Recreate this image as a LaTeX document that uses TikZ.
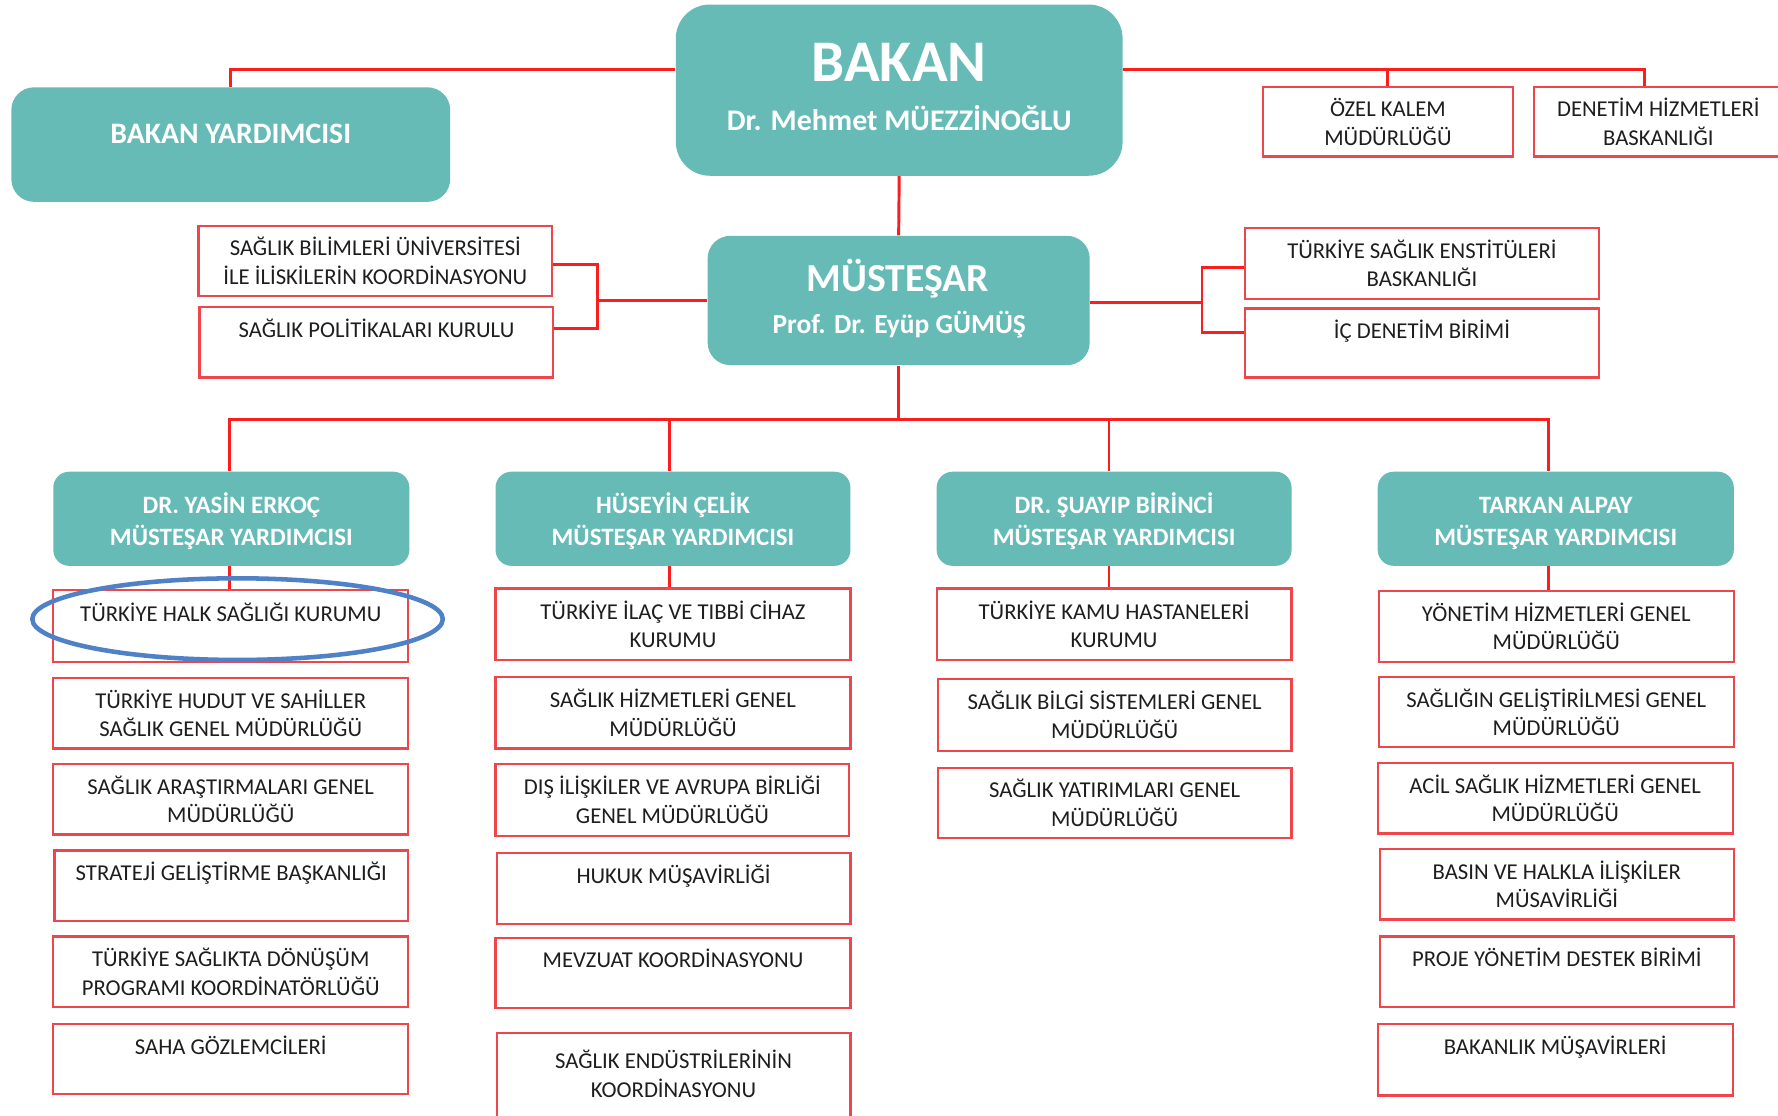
\documentclass[tikz,border=0pt]{standalone}
\usepackage{fontspec}
\setmainfont{Carlito}
\definecolor{tealc}{RGB}{102,187,182}
\definecolor{linered}{RGB}{250,30,30}
\definecolor{boxred}{RGB}{240,70,75}
\definecolor{txt}{RGB}{30,30,30}
\definecolor{ellblue}{RGB}{79,129,199}
\tikzset{
  conn/.style={draw=linered, line width=1.3pt},
  sbox/.style={draw=boxred, line width=1pt, fill=white, align=center, inner sep=0pt, text=txt, font=\fontsize{10}{12.5}\selectfont},
  sboxtext/.style={align=center, inner sep=0pt, text=txt, font=\fontsize{10}{12.5}\selectfont},
  tealbox/.style={fill=tealc, inner sep=0pt, align=center, text=white, font=\bfseries\fontsize{11}{14.3}\selectfont},
  tealtext/.style={text=white, inner sep=0pt, anchor=base},
}
\newcommand\orgbox[6]{\node[sbox, minimum width={(#4-#2)*0.5pt}, minimum height={(#5-#3)*0.5pt}] (#1) at ({(#2+#4)/2},{(#3+#5)/2}) {#6};}
\newcommand\tealnode[7]{\node[tealbox, rounded corners=#7, minimum width={(#4-#2)*0.5pt}, minimum height={(#5-#3)*0.5pt}] (#1) at ({(#2+#4)/2},{(#3+#5)/2}) {#6};}
\newcommand\lineonestrut{\rule{0pt}{11.1pt}}
\begin{document}
\begin{tikzpicture}[x=0.5pt,y=-0.5pt]
\clip (0,0) rectangle (1568,984);
\fill[white] (0,0) rectangle (1568,984);
% top level
\tealnode{bakan}{596}{4}{990}{155}{}{15pt}
\node[tealtext] (bakant1) at (793,72) {\bfseries\fontsize{26}{26}\selectfont BAKAN};
\node[tealtext] (bakant2) at (793,115) {\bfseries\fontsize{13.2}{15}\selectfont Dr. Mehmet MÜEZZİNOĞLU};
\tealnode{by}{10}{77}{397}{178}{}{10pt}
\node[tealtext] (byt) at (203.5,126.5) {\bfseries\fontsize{13.1}{15}\selectfont BAKAN YARDIMCISI};
\orgbox{ozel}{1114}{77}{1334}{138}{ÖZEL KALEM\\MÜDÜRLÜĞÜ}
\orgbox{denetim}{1353}{77}{1572}{138}{DENETİM HİZMETLERİ\\BASKANLIĞI}
% mustesar
\tealnode{must}{624}{208}{961}{322}{}{10pt}
\node[tealtext] (mustt1) at (792,257) {\bfseries\fontsize{17.5}{18}\selectfont MÜSTEŞAR};
\node[tealtext] (mustt2) at (793,294) {\bfseries\fontsize{12.1}{14}\selectfont Prof. Dr. Eyüp GÜMÜŞ};
\orgbox{sbu}{175}{199}{487}{261}{SAĞLIK BİLİMLERİ ÜNİVERSİTESİ\\İLE İLİSKİLERİN KOORDİNASYONU}
\orgbox{spk}{176}{271}{488}{333}{SAĞLIK POLİTİKALARI KURULU\\\mbox{}}
\orgbox{tse}{1098}{201}{1410}{264}{TÜRKİYE SAĞLIK ENSTİTÜLERİ\\BASKANLIĞI}
\orgbox{icd}{1098}{272}{1410}{333}{İÇ DENETİM BİRİMİ\\\mbox{}}
% deputies
\tealnode{d1}{47}{416}{361}{499}{\lineonestrut DR. YASİN ERKOÇ\\MÜSTEŞAR YARDIMCISI}{7pt}
\tealnode{d2}{437}{416}{750}{499}{\lineonestrut HÜSEYİN ÇELİK\\MÜSTEŞAR YARDIMCISI}{7pt}
\tealnode{d3}{826}{416}{1139}{499}{\lineonestrut DR. ŞUAYIP BİRİNCİ\\MÜSTEŞAR YARDIMCISI}{7pt}
\tealnode{d4}{1215}{416}{1529}{499}{\lineonestrut TARKAN ALPAY\\MÜSTEŞAR YARDIMCISI}{7pt}
% column 1
\orgbox{c11}{47}{520}{360}{584}{TÜRKİYE HALK SAĞLIĞI KURUMU\\\mbox{}}
\orgbox{c12}{47}{598}{360}{660}{TÜRKİYE HUDUT VE SAHİLLER\\SAĞLIK GENEL MÜDÜRLÜĞÜ}
\orgbox{c13}{47}{674}{360}{736}{SAĞLIK ARAŞTIRMALARI GENEL\\MÜDÜRLÜĞÜ}
\orgbox{c14}{48}{750}{360}{812}{STRATEJİ GELİŞTİRME BAŞKANLIĞI\\\mbox{}}
\orgbox{c15}{47}{826}{360}{888}{TÜRKİYE SAĞLIKTA DÖNÜŞÜM\\PROGRAMI KOORDİNATÖRLÜĞÜ}
\orgbox{c16}{47}{903}{360}{965}{SAHA GÖZLEMCİLERİ\\\mbox{}}
% column 2
\orgbox{c21}{437}{519}{750}{582}{TÜRKİYE İLAÇ VE TIBBİ CİHAZ\\KURUMU}
\orgbox{c22}{437}{597}{750}{660}{SAĞLIK HİZMETLERİ GENEL\\MÜDÜRLÜĞÜ}
\orgbox{c23}{437}{674}{749}{737}{DIŞ İLİŞKİLER VE AVRUPA BİRLİĞİ\\GENEL MÜDÜRLÜĞÜ}
\orgbox{c24}{438}{752}{750}{815}{HUKUK MÜŞAVİRLİĞİ\\\mbox{}}
\orgbox{c25}{437}{827}{750}{889}{MEVZUAT KOORDİNASYONU\\\mbox{}}
\orgbox{c26}{438}{911}{750}{1000}{}
\node[sboxtext] (c26t) at (594,947) {SAĞLIK ENDÜSTRİLERİNİN\\KOORDİNASYONU};
% column 3
\orgbox{c31}{826}{519}{1139}{582}{TÜRKİYE KAMU HASTANELERİ\\KURUMU}
\orgbox{c32}{827}{599}{1139}{662}{SAĞLIK BİLGİ SİSTEMLERİ GENEL\\MÜDÜRLÜĞÜ}
\orgbox{c33}{827}{677}{1139}{739}{SAĞLIK YATIRIMLARI GENEL\\MÜDÜRLÜĞÜ}
% column 4
\orgbox{c41}{1216}{521}{1529}{584}{YÖNETİM HİZMETLERİ GENEL\\MÜDÜRLÜĞÜ}
\orgbox{c42}{1216}{597}{1529}{659}{SAĞLIĞIN GELİŞTİRİLMESİ GENEL\\MÜDÜRLÜĞÜ}
\orgbox{c43}{1215}{673}{1528}{735}{ACİL SAĞLIK HİZMETLERİ GENEL\\MÜDÜRLÜĞÜ}
\orgbox{c44}{1217}{749}{1529}{811}{BASIN VE HALKLA İLİŞKİLER\\MÜSAVİRLİĞİ}
\orgbox{c45}{1217}{826}{1529}{888}{PROJE YÖNETİM DESTEK BİRİMİ\\\mbox{}}
\orgbox{c46}{1215}{903}{1528}{966}{BAKANLIK MÜŞAVİRLERİ\\\mbox{}}
% connectors
\coordinate (ytop) at (0,61);
\coordinate (dj) at (1450,61);
\draw[conn] (bakan.west |- ytop) -| (by.north);
\draw[conn] (bakan.east |- ytop) -- (dj) -- (dj |- denetim.north);
\draw[conn] (ozel.north |- ytop) -- (ozel.north);
\draw[conn] (bakan.south) -- (must.north);
\coordinate (lb1) at (527,233);
\coordinate (lb2) at (527,290);
\coordinate (lbm) at (527,265);
\draw[conn] (sbu.east |- lb1) -- (lb1) -- (lb2) -- (spk.east |- lb2);
\draw[conn] (lbm) -- (must.west |- lbm);
\coordinate (rb1) at (1060,236);
\coordinate (rb2) at (1060,293);
\coordinate (rbm) at (1060,267);
\draw[conn] (tse.west |- rb1) -- (rb1) -- (rb2) -- (icd.west |- rb2);
\draw[conn] (rbm) -- (must.east |- rbm);
\coordinate (bus) at (790,370);
\coordinate (x1) at (202,370);
\coordinate (x2) at (590,370);
\coordinate (x3) at (978,370);
\coordinate (x4) at (1366,370);
\draw[conn] (must.south) -- (must.south |- bus);
\draw[conn] (x1 |- d1.north) -- (x1) -- (x4) -- (x4 |- d4.north);
\draw[conn] (x2) -- (x2 |- d2.north);
\draw[conn] (x3) -- (x3 |- d3.north);
\draw[conn] (x1 |- d1.south) -- (x1 |- c11.north);
\draw[conn] (x2 |- d2.south) -- (x2 |- c21.north);
\draw[conn] (x3 |- d3.south) -- (x3 |- c31.north);
\draw[conn] (x4 |- d4.south) -- (x4 |- c41.north);
% highlight ellipse
\draw[ellblue, line width=2pt] (209.5,546) ellipse [x radius=181, y radius=36];
\end{tikzpicture}
\end{document}
